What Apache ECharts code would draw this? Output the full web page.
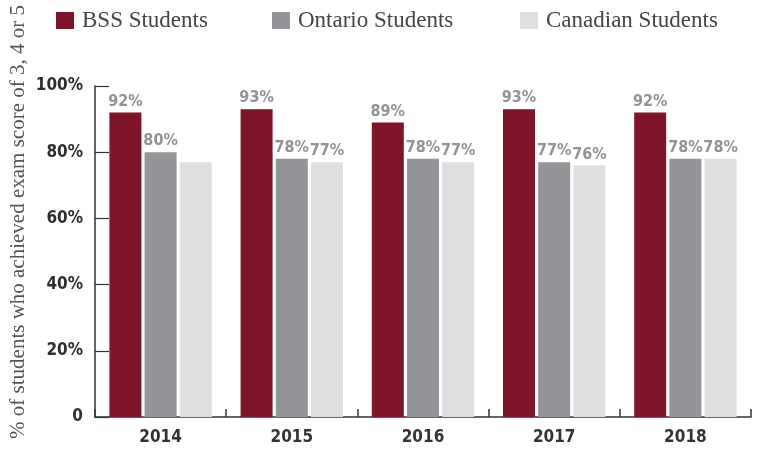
<!DOCTYPE html>
<html>
<head>
<meta charset="utf-8">
<script src="https://cdn.jsdelivr.net/npm/echarts@6/dist/echarts.min.js"></script>
<style>html,body{margin:0;padding:0;background:#fff}#c{width:759px;height:449px}</style>
</head>
<body>
<div id="c"></div>
<script>
var years = ['2014', '2015', '2016', '2017', '2018'];
var bss = [92, 93, 89, 93, 92];
var ontario = [80, 78, 78, 77, 78];
var canadian = [77, 77, 77, 76, 78];
var canadianLabelShown = [false, true, true, true, true];
var yTicks = [0, 20, 40, 60, 80, 100];
var seriesNames = ['BSS Students', 'Ontario Students', 'Canadian Students'];
var yTitle = '% of students who achieved exam score of 3, 4 or 5';

var condensed = '"DejaVu Sans Condensed", sans-serif';
var serif = '"Liberation Serif", "DejaVu Serif", serif';
var colors = ['#7e1528', '#939598', '#dedfe1'];

var labelCfg = {
  show: true, position: 'top', distance: 3,
  color: '#929395', fontFamily: condensed, fontWeight: 'bold', fontSize: 16,
  formatter: '{c}%'
};

function legendAt(name, left) {
  return {
    data: [name], left: left, top: 9, padding: 0, itemWidth: 18, itemHeight: 17,
    icon: 'rect', itemGap: 0,
    textStyle: { fontFamily: serif, fontSize: 23, color: '#454545', padding: [0, 0, 0, 3] }
  };
}

var chart = echarts.init(document.getElementById('c'));
chart.setOption({
  animation: false,
  color: colors,
  legend: [legendAt(seriesNames[0], 56), legendAt(seriesNames[1], 272), legendAt(seriesNames[2], 520)],
  grid: { left: 95, right: 8, top: 86, bottom: 32, containLabel: false },
  graphic: [{
    type: 'text', rotation: Math.PI / 2,
    x: 18, y: 222,
    style: { text: yTitle, fontFamily: serif, fontSize: 21, fill: '#555', textAlign: 'center', textVerticalAlign: 'middle' }
  }],
  xAxis: {
    type: 'category', data: years,
    axisLine: { lineStyle: { color: '#333', width: 1.5 } },
    axisTick: { show: true, inside: true, length: 8, lineStyle: { color: '#333', width: 1.5 } },
    axisLabel: { color: '#333', fontFamily: condensed, fontWeight: 'bold', fontSize: 17, margin: 12 }
  },
  yAxis: {
    type: 'value', min: 0, max: 100, interval: 20,
    axisLine: { show: true, lineStyle: { color: '#333', width: 1.5 } },
    axisTick: { show: true, inside: true, length: 14, lineStyle: { color: '#333', width: 1.2 } },
    splitLine: { show: false },
    axisLabel: {
      color: '#2e2e2e', fontFamily: condensed, fontWeight: 'bold', fontSize: 17, margin: 12,
      formatter: function (v) { return yTicks.indexOf(v) >= 0 ? (v === 0 ? '0' : v + '%') : ''; }
    }
  },
  series: [
    { name: seriesNames[0], type: 'bar', data: bss, barWidth: 32, barGap: '10%', label: labelCfg },
    { name: seriesNames[1], type: 'bar', data: ontario, barWidth: 32, barGap: '10%', label: labelCfg },
    { name: seriesNames[2], type: 'bar', barWidth: 32, barGap: '10%', label: labelCfg,
      data: canadian.map(function (v, i) { return { value: v, label: { show: canadianLabelShown[i] } }; }) }
  ]
});
</script>
</body>
</html>
